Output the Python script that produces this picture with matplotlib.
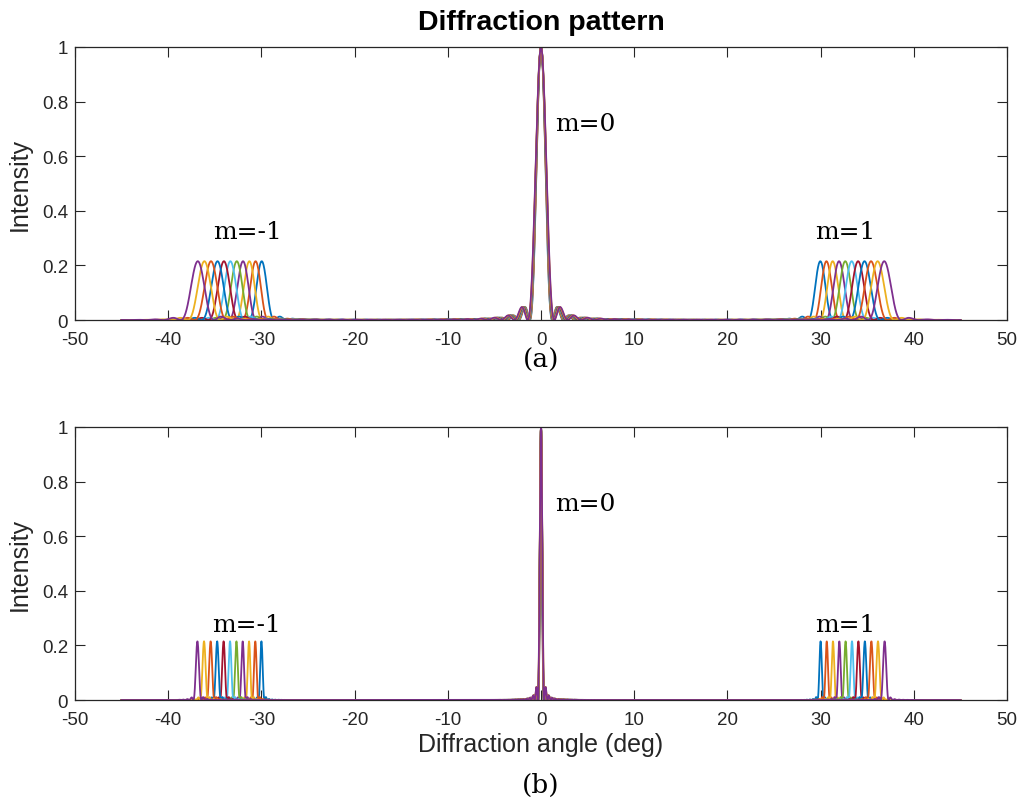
import numpy as np
import matplotlib
matplotlib.use("Agg")
import matplotlib.pyplot as plt
from matplotlib.ticker import FuncFormatter

# ---- data ----
# first-order diffraction angles (deg) of the 11 wavelength curves
first_order_angles = [30.0, 30.66, 31.33, 32.01, 32.68, 33.37, 34.06, 34.75, 35.45, 36.16, 36.87]
central_peak_height = 1.0
first_order_height = 0.215
angle_range = [-45.0, 45.0]
# number of illuminated slits (sets the peak width) in panels (a) and (b)
slits_a = 24
slits_b = 100
x_ticks = [-50, -40, -30, -20, -10, 0, 10, 20, 30, 40, 50]
y_ticks = [0, 0.2, 0.4, 0.6, 0.8, 1.0]
order_labels = ["m=-1", "m=0", "m=1"]
label_pos_a = [(-35.2, 0.326), (1.5, 0.718), (29.4, 0.326)]
label_pos_b = [(-35.3, 0.278), (1.5, 0.718), (29.4, 0.278)]

colors = ['#0072BD', '#D95319', '#EDB120', '#7E2F8E', '#77AC30', '#4DBEEE', '#A2142F']

# slit-width ratio giving the first-order height
ratios = np.linspace(0.3, 0.9, 60001)
env_vals = np.sinc(ratios) ** 2
slit_ratio = ratios[np.argmin(np.abs(env_vals - first_order_height / central_peak_height))]


def grating(theta_deg, first_angle, n_slits):
    s = np.sin(np.radians(theta_deg))
    s1 = np.sin(np.radians(first_angle))
    u = s / s1
    env = np.sinc(slit_ratio * u) ** 2
    den = n_slits * np.sin(np.pi * u)
    num = np.sin(n_slits * np.pi * u)
    with np.errstate(divide='ignore', invalid='ignore'):
        inter = np.where(np.abs(den) < 1e-9, 1.0, (num / den) ** 2)
    return central_peak_height * env * inter


theta = np.linspace(angle_range[0], angle_range[1], 4001)

plt.rcParams['font.family'] = ['Liberation Sans', 'DejaVu Sans']
plt.rcParams['axes.unicode_minus'] = False
axcol = '#262626'

fig = plt.figure(figsize=(10.18, 8.04), dpi=100)
ax_a = fig.add_axes([0.0737, 0.6007, 0.9155, 0.3396])
ax_b = fig.add_axes([0.0737, 0.1281, 0.9155, 0.3396])

for ax, n_slits, lpos in [(ax_a, slits_a, label_pos_a), (ax_b, slits_b, label_pos_b)]:
    for i, ang in enumerate(first_order_angles):
        ax.plot(theta, grating(theta, ang, n_slits), color=colors[i % len(colors)], lw=1.3)
    ax.set_xlim(-50, 50)
    ax.set_ylim(0, 1)
    ax.set_xticks(x_ticks)
    ax.set_yticks(y_ticks)
    ax.yaxis.set_major_formatter(FuncFormatter(lambda v, p: '%g' % v))
    ax.tick_params(direction='in', top=True, right=True, length=7, width=0.8,
                   colors=axcol, labelsize=13.5, labelcolor=axcol)
    ax.tick_params(axis='x', pad=8)
    ax.tick_params(axis='y', pad=5)
    for sp in ax.spines.values():
        sp.set_color(axcol)
        sp.set_linewidth(0.9)
    ax.set_ylabel('Intensity', fontsize=18, color=axcol, labelpad=7)
    for txt, (tx, ty) in zip(order_labels, lpos):
        ax.text(tx, ty, txt, fontsize=18, family='DejaVu Serif', ha='left', va='center', color='black')

ax_a.set_title('Diffraction pattern', fontsize=20.5, fontweight='bold', color='black', pad=13)
ax_b.set_xlabel('Diffraction angle (deg)', fontsize=18, color=axcol, labelpad=3)

fig.text(0.5315, 1 - 360 / 804, '(a)', fontsize=19, family='DejaVu Serif', ha='center', va='center')
fig.text(0.5315, 1 - 785 / 804, '(b)', fontsize=19, family='DejaVu Serif', ha='center', va='center')

fig.savefig('out.png', dpi=100)
